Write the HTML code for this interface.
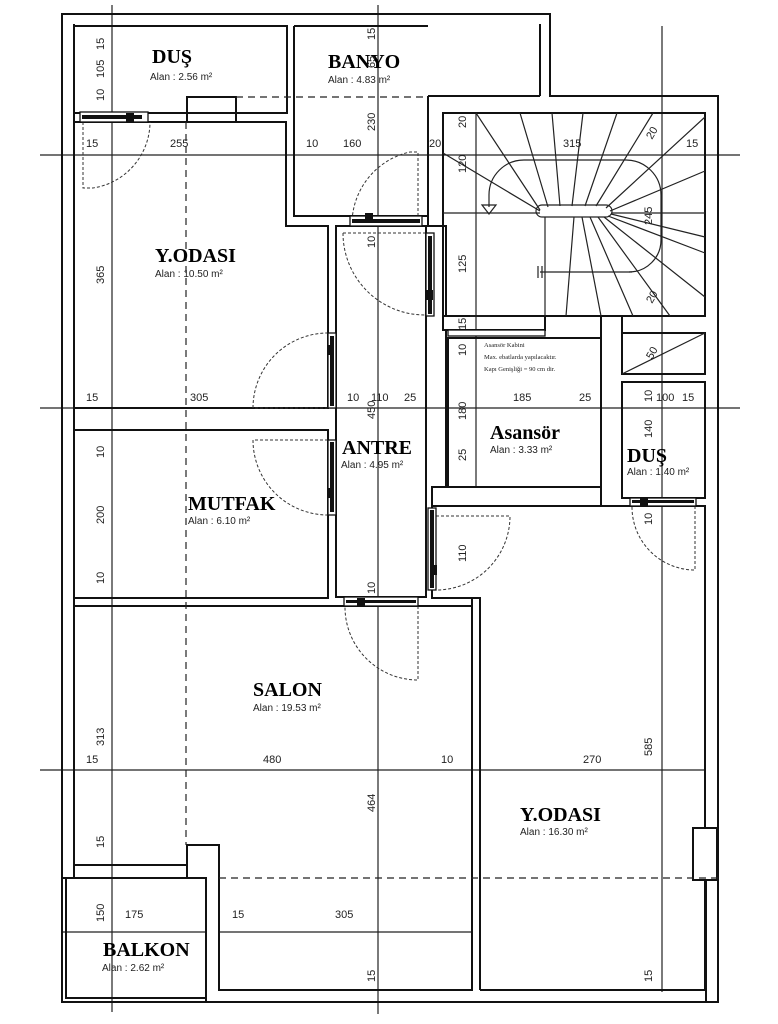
<!DOCTYPE html>
<html><head><meta charset="utf-8">
<style>
html,body{margin:0;padding:0;background:#fff;}
svg{display:block;}
.w{fill:none;stroke:#111;stroke-width:2;}
.g{fill:none;stroke:#222;stroke-width:1.2;}
.d{fill:none;stroke:#222;stroke-width:1.2;stroke-dasharray:7 5;}
.dd{fill:none;stroke:#333;stroke-width:1;stroke-dasharray:3 2;}
.n{font-family:"Liberation Serif",serif;font-weight:bold;font-size:20px;fill:#000;}
.a{font-family:"Liberation Sans",sans-serif;font-size:10px;fill:#222;}
.t{font-family:"Liberation Sans",sans-serif;font-size:11px;fill:#222;}
.s{font-family:"Liberation Serif",serif;font-size:6.5px;fill:#222;}
</style></head><body>
<svg width="778" height="1024" viewBox="0 0 778 1024" xmlns="http://www.w3.org/2000/svg">
<rect width="778" height="1024" fill="#fff"/>
<g class="g">
<line x1="112" y1="5" x2="112" y2="1012"/>
<line x1="378" y1="5" x2="378" y2="1014"/>
<line x1="476" y1="113" x2="476" y2="487"/>
<line x1="662" y1="26" x2="662" y2="992"/>
<line x1="40" y1="155" x2="740" y2="155"/>
<line x1="40" y1="408" x2="740" y2="408"/>
<line x1="40" y1="770" x2="706" y2="770"/>
<line x1="62" y1="932" x2="206" y2="932"/>
<line x1="219" y1="932" x2="472" y2="932"/>
</g>
<g class="w">
<path d="M62 878 V14 H550 V96 H718 V1002 H206"/>
<path d="M74 878 V24"/>
<path d="M540 24 V96"/>
<path d="M428 96 H540"/>
<path d="M706 1002 V880"/>
<rect x="62" y="878" width="144" height="124"/>
<rect x="66" y="878" width="140" height="120"/>
<rect x="74" y="26" width="213" height="87"/>
<path d="M187 122 V97 H236 V122"/>
<path d="M74 122 H286 V226 H328 V408 H74"/>
<path d="M294 26 H428 M294 26 V216 H428"/>
<path d="M428 96 V226"/>
<rect x="336" y="226" width="90" height="371"/>
<path d="M426 226 H446 V316 M446 330 V487 H432 V506"/>
<rect x="443" y="113" width="262" height="203"/>
<path d="M443 316 V330 H545 V316"/>
<rect x="448" y="338" width="153" height="149"/>
<path d="M601 316 V506 M622 316 V333"/>
<rect x="622" y="333" width="83" height="41"/>
<rect x="622" y="382" width="83" height="116"/>
<path d="M480 990 V598 H432 V506 H705 V828 M705 880 V990 H480"/>
<rect x="693" y="828" width="24" height="52"/>
<rect x="74" y="430" width="254" height="168"/>
<path d="M74 606 H472 V990 H219 V878 M187 865 H74"/>
<path d="M187 878 V845 H219 V878"/>
<path d="M74 866 V878 H187"/>
<path d="M472 598 V606"/>
</g>
<g class="d">
<line x1="236" y1="97" x2="428" y2="97"/>
<line x1="186" y1="122" x2="186" y2="845"/>
<line x1="219" y1="878" x2="718" y2="878"/>
</g>
<g class="g">
<line x1="443" y1="213" x2="540" y2="213"/>
<line x1="612" y1="213" x2="705" y2="213"/>
<line x1="545" y1="217" x2="545" y2="316"/>
<line x1="540" y1="272" x2="632" y2="272"/>
<rect x="536" y="205" width="76" height="12" rx="6"/>
<path d="M540 210 L476 113 M548 207 L520 113 M560 206 L552 113 M572 206 L583 113 M585 206 L617 113 M596 206 L653 113 M606 208 L705 117 M610 211 L705 171 M611 214 L705 237 M608 216 L705 253 M604 217 L705 297 M598 217 L670 316 M590 217 L633 316 M582 217 L601 316 M574 217 L566 316 M540 211 L443 153"/>
<path d="M489 207 V195 A35 35 0 0 1 524 160 H626 A35 35 0 0 1 661 195 V240 A32 32 0 0 1 629 272"/>
<path d="M482 205 L489 214 L496 205 Z"/>
<line x1="538" y1="266" x2="538" y2="278"/>
<line x1="542" y1="266" x2="542" y2="278"/>
<line x1="470" y1="316" x2="490" y2="316"/>
<line x1="622" y1="374" x2="705" y2="333"/>
</g>
<g class="dd">
<path d="M83 122 V188 H93 A67 67 0 0 0 150 122"/>
<path d="M418 226 V152 H410 A74 74 0 0 0 352 226"/>
<path d="M328 408 H253 A75 75 0 0 1 328 333"/>
<path d="M343 233 H425 M343 233 A82 82 0 0 0 425 315"/>
<path d="M328 440 H253 A75 75 0 0 0 328 515"/>
<path d="M436 516 H510 A74 74 0 0 1 436 590"/>
<path d="M418 606 V680 A73 73 0 0 1 345 606"/>
<path d="M695 506 V570 A63 63 0 0 1 632 506"/>
</g>
<g fill="#fff" stroke="#111" stroke-width="1.3">
<rect x="80" y="112" width="68" height="10"/>
<rect x="350" y="216" width="72" height="10"/>
<rect x="328" y="333" width="8" height="75"/>
<rect x="426" y="233" width="8" height="83"/>
<rect x="328" y="440" width="8" height="75"/>
<rect x="428" y="508" width="8" height="82"/>
<rect x="344" y="597" width="74" height="9"/>
<rect x="630" y="498" width="66" height="8"/>
<rect x="448" y="330" width="97" height="6"/>
</g>
<g fill="#111">
<rect x="82" y="115" width="60" height="4"/><rect x="126" y="113" width="8" height="10"/>
<rect x="352" y="219" width="68" height="4"/><rect x="365" y="213" width="8" height="8"/>
<rect x="330" y="336" width="4" height="70"/><rect x="327" y="345" width="7" height="10"/>
<rect x="428" y="236" width="4" height="78"/><rect x="426" y="290" width="7" height="10"/>
<rect x="330" y="442" width="4" height="70"/><rect x="327" y="488" width="7" height="10"/>
<rect x="430" y="510" width="4" height="78"/><rect x="430" y="565" width="7" height="10"/>
<rect x="346" y="600" width="70" height="3"/><rect x="357" y="598" width="8" height="8"/>
<rect x="632" y="500" width="62" height="3"/><rect x="640" y="498" width="8" height="8"/>
</g>
<g class="n">
<text x="152" y="63">DUŞ</text>
<text x="328" y="68">BANYO</text>
<text x="155" y="262">Y.ODASI</text>
<text x="342" y="454">ANTRE</text>
<text x="490" y="439">Asansör</text>
<text x="627" y="462">DUŞ</text>
<text x="188" y="510">MUTFAK</text>
<text x="253" y="696">SALON</text>
<text x="520" y="821">Y.ODASI</text>
<text x="103" y="956">BALKON</text>
</g>
<g class="a">
<text x="150" y="80">Alan :  2.56 m²</text>
<text x="328" y="83">Alan :  4.83 m²</text>
<text x="155" y="277">Alan :  10.50 m²</text>
<text x="341" y="468">Alan :  4.95 m²</text>
<text x="490" y="453">Alan :  3.33 m²</text>
<text x="627" y="475">Alan :  1.40 m²</text>
<text x="188" y="524">Alan :  6.10 m²</text>
<text x="253" y="711">Alan :  19.53 m²</text>
<text x="520" y="835">Alan :  16.30 m²</text>
<text x="102" y="971">Alan :  2.62 m²</text>
</g>
<g class="s">
<text x="484" y="347">Asansör Kabini</text>
<text x="484" y="359">Max. ebatlarda yapılacaktır.</text>
<text x="484" y="371">Kapı Genişliği = 90 cm dir.</text>
</g>
<g class="t">
<text x="86" y="147">15</text><text x="170" y="147">255</text><text x="306" y="147">10</text><text x="343" y="147">160</text><text x="429" y="147">20</text><text x="563" y="147">315</text><text x="686" y="147">15</text>
<text x="86" y="401">15</text><text x="190" y="401">305</text><text x="347" y="401">10</text><text x="371" y="401">110</text><text x="404" y="401">25</text><text x="513" y="401">185</text><text x="579" y="401">25</text><text x="656" y="401">100</text><text x="682" y="401">15</text>
<text x="86" y="763">15</text><text x="263" y="763">480</text><text x="441" y="763">10</text><text x="583" y="763">270</text>
<text x="125" y="918">175</text><text x="232" y="918">15</text><text x="335" y="918">305</text>
</g>
<g class="t">
<text transform="translate(104,50) rotate(-90)">15</text>
<text transform="translate(104,78) rotate(-90)">105</text>
<text transform="translate(104,101) rotate(-90)">10</text>
<text transform="translate(104,284) rotate(-90)">365</text>
<text transform="translate(375,40) rotate(-90)">15</text>
<text transform="translate(375,68) rotate(-90)">65</text>
<text transform="translate(375,131) rotate(-90)">230</text>
<text transform="translate(466,128) rotate(-90)">20</text>
<text transform="translate(466,173) rotate(-90)">120</text>
<text transform="translate(466,273) rotate(-90)">125</text>
<text transform="translate(466,330) rotate(-90)">15</text>
<text transform="translate(466,356) rotate(-90)">10</text>
<text transform="translate(466,420) rotate(-90)">180</text>
<text transform="translate(466,461) rotate(-90)">25</text>
<text transform="translate(652,140) rotate(-60)">20</text>
<text transform="translate(652,225) rotate(-90)">245</text>
<text transform="translate(652,304) rotate(-60)">20</text>
<text transform="translate(652,360) rotate(-60)">50</text>
<text transform="translate(652,402) rotate(-90)">10</text>
<text transform="translate(652,438) rotate(-90)">140</text>
<text transform="translate(652,525) rotate(-90)">10</text>
<text transform="translate(104,458) rotate(-90)">10</text>
<text transform="translate(104,524) rotate(-90)">200</text>
<text transform="translate(104,584) rotate(-90)">10</text>
<text transform="translate(375,248) rotate(-90)">10</text>
<text transform="translate(375,419) rotate(-90)">450</text>
<text transform="translate(375,594) rotate(-90)">10</text>
<text transform="translate(466,562) rotate(-90)">110</text>
<text transform="translate(104,746) rotate(-90)">313</text>
<text transform="translate(104,848) rotate(-90)">15</text>
<text transform="translate(375,812) rotate(-90)">464</text>
<text transform="translate(652,756) rotate(-90)">585</text>
<text transform="translate(104,922) rotate(-90)">150</text>
<text transform="translate(375,982) rotate(-90)">15</text>
<text transform="translate(652,982) rotate(-90)">15</text>
</g>
</svg>
</body></html>
